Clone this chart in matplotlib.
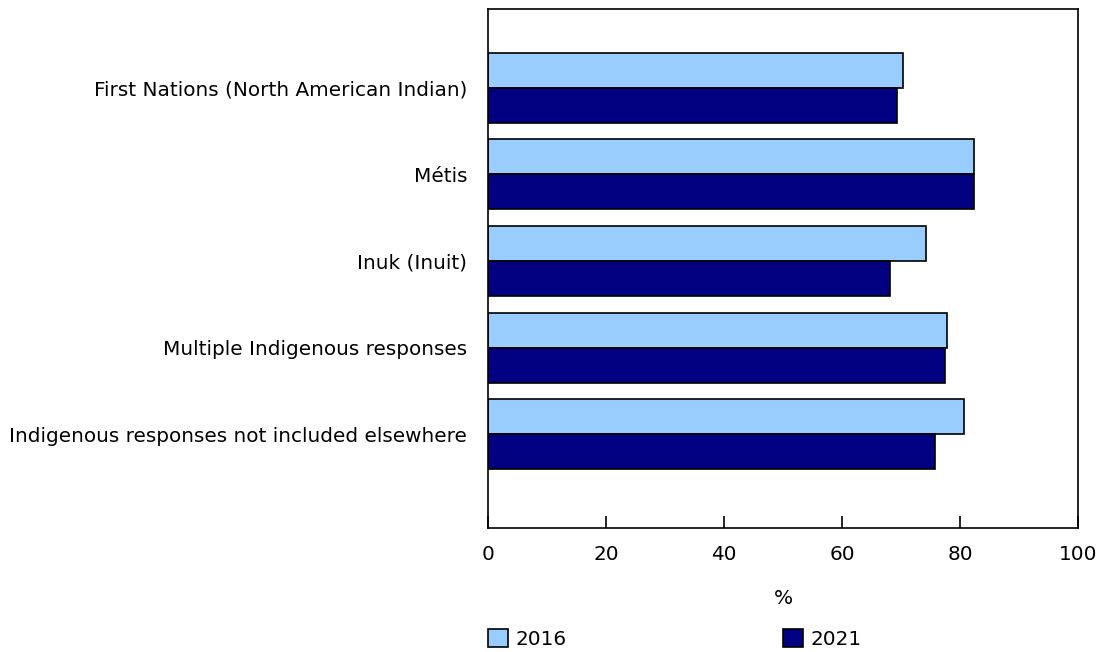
import numpy as np
import matplotlib
matplotlib.use("Agg")
import matplotlib.pyplot as plt
from matplotlib.patches import Patch

# ── Data ─────────────────────────────────────────────────────────────────────
categories = [
    "First Nations (North American Indian)",
    "Métis",
    "Inuk (Inuit)",
    "Multiple Indigenous responses",
    "Indigenous responses not included elsewhere",
]
values_2016 = [70.3, 82.4, 74.2, 77.8, 80.7]
values_2021 = [69.4, 82.4, 68.1, 77.4, 75.7]
series_labels = ["2016", "2021"]
x_ticks = [0, 20, 40, 60, 80, 100]

COLOR_2016 = "#99CCFF"
COLOR_2021 = "#000080"

plt.rcParams["font.family"] = ["DejaVu Sans"]
FS = 14.4

fig = plt.figure(figsize=(10.99, 6.52), dpi=100)
ax = fig.add_axes([488 / 1099, 1 - 528 / 652, 590 / 1099, 519 / 652])

y = np.arange(len(categories))
h = 0.404
ax.barh(y - h / 2, values_2016, height=h, color=COLOR_2016,
        edgecolor="black", linewidth=1.2)
ax.barh(y + h / 2, values_2021, height=h, color=COLOR_2021,
        edgecolor="black", linewidth=1.2)

ax.set_xlim(0, 100)
ax.set_ylim(len(categories) - 1 + 1.082, -0.908)
ax.set_xticks(x_ticks)
ax.set_yticks(y)
ax.set_yticklabels(categories, fontsize=FS)
ax.tick_params(axis="y", length=0, pad=15)
ax.tick_params(axis="x", direction="in", length=9, width=1.2,
               labelsize=FS, pad=12)
for s in ax.spines.values():
    s.set_linewidth(1.2)
ax.set_xlabel("%", fontsize=FS, labelpad=18)

# ── Legend: two entries, one at the axis start, one at its middle ────────────
h1 = Patch(facecolor=COLOR_2016, edgecolor="black", linewidth=1.2)
h2 = Patch(facecolor=COLOR_2021, edgecolor="black", linewidth=1.2)
leg_kw = dict(frameon=False, fontsize=FS, handlelength=1.02, handleheight=1.02,
              handletextpad=0.35, borderpad=0, borderaxespad=0, loc="center left")
leg1 = ax.legend([h1], [series_labels[0]],
                 bbox_to_anchor=(0.0, -(639 - 528) / 519), **leg_kw)
ax.add_artist(leg1)
ax.legend([h2], [series_labels[1]],
          bbox_to_anchor=(0.4995, -(639 - 528) / 519), **leg_kw)

plt.savefig("out.png", dpi=100)
plt.close()
